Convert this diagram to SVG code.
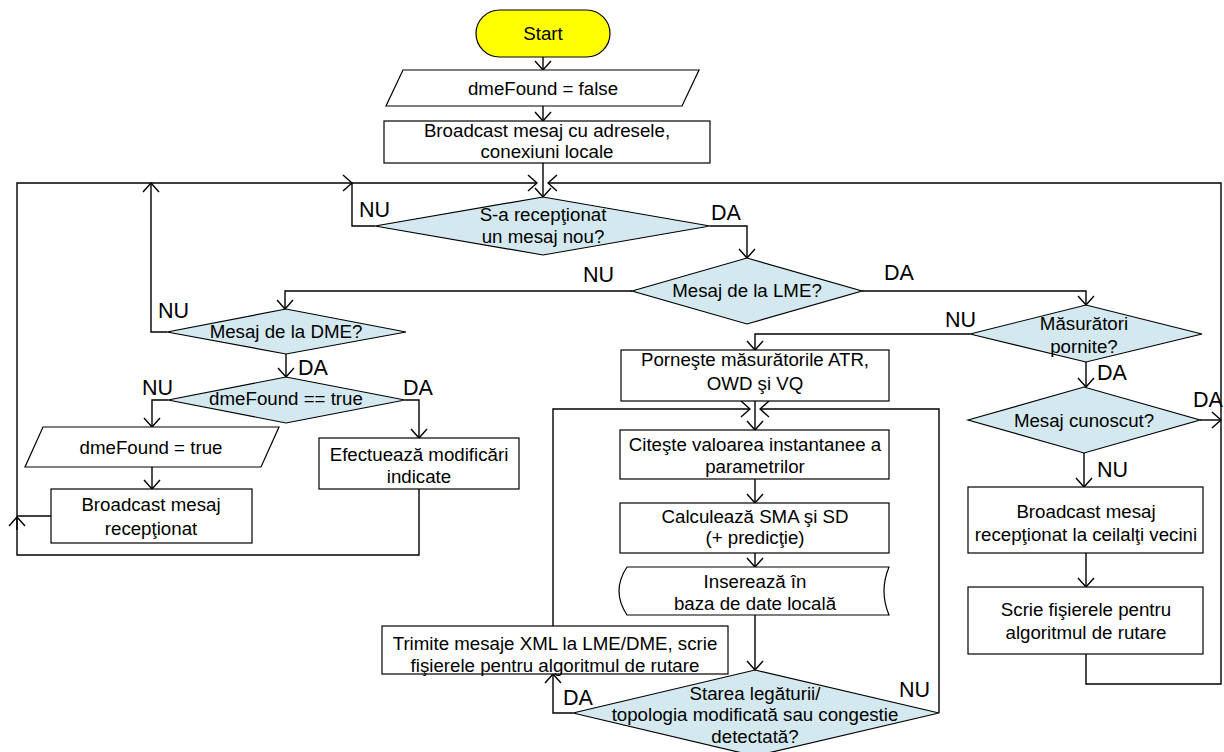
<svg xmlns="http://www.w3.org/2000/svg" width="1224" height="752" viewBox="0 0 1224 752">
  <style>
    .box { fill: #ffffff; stroke: #000000; stroke-width: 1.2; }
    .term { fill: #ffff00; stroke: #000000; stroke-width: 1.2; }
    .dec { fill: #d3e9ef; stroke: #000000; stroke-width: 1.2; }
    .t { font-family: "Liberation Sans", Arial, sans-serif; font-size: 18.7px; fill: #000000; text-anchor: middle; }
    .lbl { font-family: "Liberation Sans", Arial, sans-serif; font-size: 21.5px; fill: #000000; }
    .conn path { fill: none; stroke: #000000; stroke-width: 1.4; }
  </style>
  <defs>
    <marker id="arr" viewBox="-11 -10 12 20" refX="0" refY="0" markerWidth="12" markerHeight="20" markerUnits="userSpaceOnUse" orient="auto">
      <path d="M-9,-8 L0,0 L-9,8" fill="none" stroke="#000000" stroke-width="1.4"/>
    </marker>
  </defs>
  <rect width="1224" height="752" fill="#ffffff"/>

  <!-- connectors -->
  <g id="connectors" class="conn">
    <path d="M543,57 V70" marker-end="url(#arr)"/>
    <path d="M543,106 V121" marker-end="url(#arr)"/>
    <path d="M543,163 V197" marker-end="url(#arr)"/>
    <path d="M1086,654 V684 H1221 V183 H548" marker-end="url(#arr)"/>
    <path d="M1200,420 H1221" marker-end="url(#arr)"/>
    <path d="M375,226 H352 V183 H537" marker-end="url(#arr)"/>
    <path d="M419,489 V555 H17 V183 H352" marker-end="url(#arr)"/>
    <path d="M167,332 H151 V183" marker-end="url(#arr)"/>
    <path d="M51,516 H17"/>
    <path d="M17,530 V517" marker-end="url(#arr)"/>
    <path d="M710,226 H747 V258" marker-end="url(#arr)"/>
    <path d="M632,291 H285 V309" marker-end="url(#arr)"/>
    <path d="M862,291 H1086 V305" marker-end="url(#arr)"/>
    <path d="M286,354 V377" marker-end="url(#arr)"/>
    <path d="M168,400 H152 V427" marker-end="url(#arr)"/>
    <path d="M405,400 H419 V438" marker-end="url(#arr)"/>
    <path d="M152,467 V489" marker-end="url(#arr)"/>
    <path d="M970,334 H755 V350" marker-end="url(#arr)"/>
    <path d="M1086,362 V387" marker-end="url(#arr)"/>
    <path d="M1084,453 V487" marker-end="url(#arr)"/>
    <path d="M1086,553 V587" marker-end="url(#arr)"/>
    <path d="M755,401 V430" marker-end="url(#arr)"/>
    <path d="M755,479 V503" marker-end="url(#arr)"/>
    <path d="M755,553 V567" marker-end="url(#arr)"/>
    <path d="M755,615 V670" marker-end="url(#arr)"/>
    <path d="M573,713 H553 V674" marker-end="url(#arr)"/>
    <path d="M553,626 V409 H750" marker-end="url(#arr)"/>
    <path d="M939,713 V409 H760" marker-end="url(#arr)"/>
  </g>

  <!-- nodes -->
  <g id="start">
    <rect class="term" x="476" y="10" width="134" height="47" rx="23.5"/>
    <text class="t" x="543" y="40">Start</text>
  </g>
  <g id="init-false">
    <polygon class="box" points="403,70 699,70 682,106 386,106"/>
    <text class="t" x="543" y="95">dmeFound = false</text>
  </g>
  <g id="broadcast-local">
    <rect class="box" x="384" y="121" width="326" height="42"/>
    <text class="t" x="547" y="137">Broadcast mesaj cu adresele,</text>
    <text class="t" x="547" y="158">conexiuni locale</text>
  </g>
  <g id="dec-received">
    <polygon class="dec" points="375,226 543,197 710,226 543,255"/>
    <text class="t" x="543" y="221">S-a recepţionat</text>
    <text class="t" x="543" y="243">un mesaj nou?</text>
  </g>
  <g id="dec-lme">
    <polygon class="dec" points="632,291 747,258 862,291 747,324"/>
    <text class="t" x="747" y="297">Mesaj de la LME?</text>
  </g>
  <g id="dec-dme">
    <polygon class="dec" points="167,332 286,309 406,332 286,354"/>
    <text class="t" x="286" y="338">Mesaj de la DME?</text>
  </g>
  <g id="dec-found">
    <polygon class="dec" points="168,400 286,377 405,400 286,423"/>
    <text class="t" x="286" y="405">dmeFound == true</text>
  </g>
  <g id="set-true">
    <polygon class="box" points="43,427 279,427 261,467 25,467"/>
    <text class="t" x="151" y="454">dmeFound = true</text>
  </g>
  <g id="broadcast-received">
    <rect class="box" x="51" y="489" width="201" height="54"/>
    <text class="t" x="151" y="511">Broadcast mesaj</text>
    <text class="t" x="151" y="535">recepţionat</text>
  </g>
  <g id="apply-changes">
    <rect class="box" x="319" y="438" width="200" height="51"/>
    <text class="t" x="419" y="461">Efectuează modificări</text>
    <text class="t" x="419" y="483">indicate</text>
  </g>
  <g id="dec-started">
    <polygon class="dec" points="970,334 1086,305 1202,334 1086,362"/>
    <text class="t" x="1084" y="330">Măsurători</text>
    <text class="t" x="1084" y="353">pornite?</text>
  </g>
  <g id="start-measure">
    <rect class="box" x="621" y="350" width="268" height="51"/>
    <text class="t" x="755" y="366">Porneşte măsurătorile ATR,</text>
    <text class="t" x="755" y="390">OWD şi VQ</text>
  </g>
  <g id="read-params">
    <rect class="box" x="620" y="430" width="269" height="49"/>
    <text class="t" x="755" y="451">Citeşte valoarea instantanee a</text>
    <text class="t" x="755" y="473">parametrilor</text>
  </g>
  <g id="compute">
    <rect class="box" x="620" y="503" width="269" height="50"/>
    <text class="t" x="755" y="523">Calculează SMA şi SD</text>
    <text class="t" x="755" y="544">(+ predicţie)</text>
  </g>
  <g id="store-db">
    <path class="box" d="M627,567 H889 Q879,591 889,615 H627 Q611,591 627,567 Z"/>
    <text class="t" x="755" y="588">Inserează în</text>
    <text class="t" x="755" y="610">baza de date locală</text>
  </g>
  <g id="send-xml">
    <rect class="box" x="382" y="626" width="346" height="48"/>
    <text class="t" x="555" y="650">Trimite mesaje XML la LME/DME, scrie</text>
    <text class="t" x="555" y="672">fişierele pentru algoritmul de rutare</text>
  </g>
  <g id="dec-state">
    <polygon class="dec" points="573,713 755,670 939,713 755,756"/>
    <text class="t" x="755" y="700">Starea legăturii/</text>
    <text class="t" x="755" y="721">topologia modificată sau congestie</text>
    <text class="t" x="755" y="743">detectată?</text>
  </g>
  <g id="dec-known">
    <polygon class="dec" points="968,420 1084,387 1200,420 1084,453"/>
    <text class="t" x="1084" y="427">Mesaj cunoscut?</text>
  </g>
  <g id="broadcast-neighbours">
    <rect class="box" x="968" y="487" width="235" height="66"/>
    <text class="t" x="1086" y="518">Broadcast mesaj</text>
    <text class="t" x="1086" y="541">recepţionat la ceilalţi vecini</text>
  </g>
  <g id="write-files">
    <rect class="box" x="968" y="587" width="235" height="67"/>
    <text class="t" x="1086" y="616">Scrie fişierele pentru</text>
    <text class="t" x="1086" y="639">algoritmul de rutare</text>
  </g>

  <!-- branch labels -->
  <g id="labels">
    <text class="lbl" x="359" y="217">NU</text>
    <text class="lbl" x="711" y="220">DA</text>
    <text class="lbl" x="583" y="282">NU</text>
    <text class="lbl" x="884" y="280">DA</text>
    <text class="lbl" x="158" y="318">NU</text>
    <text class="lbl" x="298" y="375">DA</text>
    <text class="lbl" x="142" y="395">NU</text>
    <text class="lbl" x="403" y="395">DA</text>
    <text class="lbl" x="945" y="327">NU</text>
    <text class="lbl" x="1097" y="380">DA</text>
    <text class="lbl" x="1193" y="407">DA</text>
    <text class="lbl" x="1097" y="477">NU</text>
    <text class="lbl" x="563" y="705">DA</text>
    <text class="lbl" x="899" y="697">NU</text>
  </g>
</svg>
